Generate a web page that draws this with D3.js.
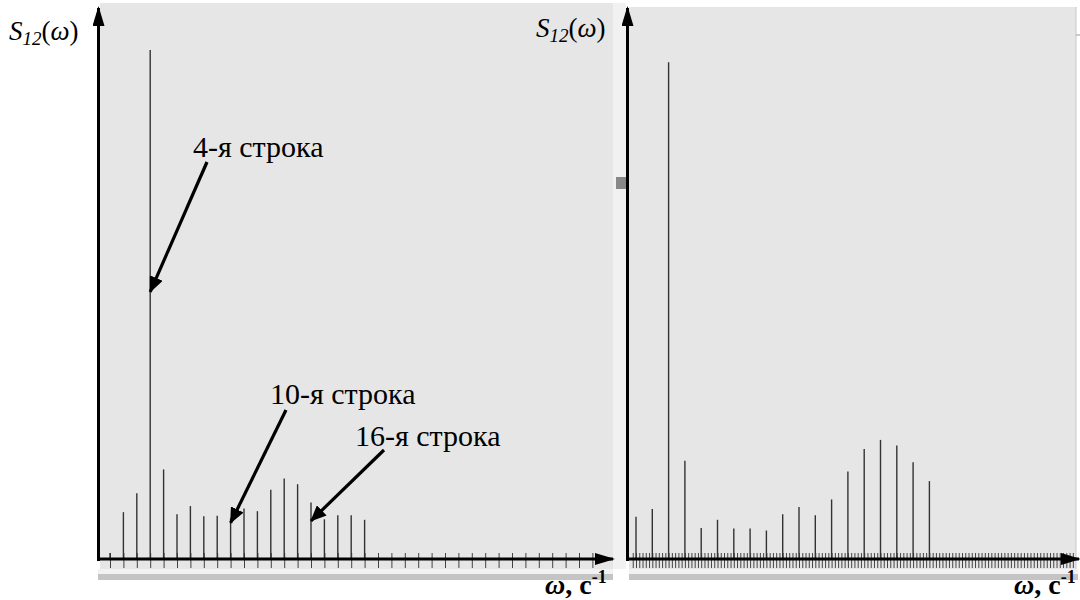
<!DOCTYPE html>
<html>
<head>
<meta charset="utf-8">
<script src="https://cdn.jsdelivr.net/npm/d3@7"></script>
<style>
  body { margin: 0; background: #fff; }
  svg { display: block; }
</style>
</head>
<body>
<svg id="chart" width="1080" height="600"></svg>
<script>
// S12(w) spectrum, relative amplitude (peak of left panel = 100)
const leftHarm = d3.range(0, 20);
const leftVals = [1.2, 9.2, 12.9, 100, 17.6, 8.8, 10.4, 8.4, 8.5, 8.0, 9.9, 9.4, 13.6, 15.8, 14.7, 11.1, 7.8, 8.6, 8.6, 7.7];
const leftTicks = d3.range(0, 37);

const rightHarm = d3.range(0, 19);
const rightVals = [8.3, 9.8, 97.6, 19.3, 6.1, 7.7, 6.0, 6.0, 5.6, 8.8, 10.2, 8.6, 11.7, 17.2, 21.6, 23.4, 22.3, 19.0, 15.3];
const rightTicks = d3.range(-1, 135).map(t => t / 5);

// annotations: label, harmonic it points at, level of arrow tip
const noteLabels = ['4-я строка', '10-я строка', '16-я строка'];
const noteHarm = [3, 9, 15];
const noteLevel = [52.5, 7.1, 7.5];

const serif = '"Liberation Serif", "Times New Roman", "DejaVu Serif", serif';

const svg = d3.select('#chart');
const y0 = 559;

const y = d3.scaleLinear().domain([0, 100]).range([y0, 50]);
const xL = d3.scaleLinear().domain([0, 36]).range([110, 592.4]);
const xR = d3.scaleLinear().domain([0, 18]).range([636, 929.4]);

const defs = svg.append('defs');
defs.append('marker')
  .attr('id', 'head')
  .attr('markerUnits', 'userSpaceOnUse')
  .attr('viewBox', '0 0 20 12')
  .attr('refX', 18).attr('refY', 6)
  .attr('markerWidth', 20).attr('markerHeight', 12)
  .attr('orient', 'auto')
  .append('path').attr('d', 'M0,0L20,6L0,12Z').attr('fill', '#000');
defs.append('marker')
  .attr('id', 'note')
  .attr('markerUnits', 'userSpaceOnUse')
  .attr('viewBox', '0 0 16 14')
  .attr('refX', 15).attr('refY', 7)
  .attr('markerWidth', 16).attr('markerHeight', 14)
  .attr('orient', 'auto')
  .append('path').attr('d', 'M0,0L16,7L0,14Z').attr('fill', '#000');

// panel backgrounds
svg.append('rect').attr('x', 100).attr('y', 3).attr('width', 513).attr('height', 566).attr('fill', '#e6e6e6');
svg.append('rect').attr('x', 613).attr('y', 3).attr('width', 13).attr('height', 566).attr('fill', '#f1f1f1');
svg.append('rect').attr('x', 616).attr('y', 177).attr('width', 10).attr('height', 12).attr('fill', '#888');
svg.append('rect').attr('x', 629).attr('y', 7).attr('width', 447).attr('height', 562).attr('fill', '#e6e6e6');
svg.append('line').attr('x1', 1076).attr('x2', 1076).attr('y1', 7).attr('y2', 569).attr('stroke', '#c8c8c8');
svg.append('line').attr('x1', 1076).attr('x2', 1080).attr('y1', 35).attr('y2', 35).attr('stroke', '#999');

// strips below the axes
[[98, 613], [629, 1078]].forEach(([a, b]) => {
  svg.append('rect').attr('x', a).attr('y', 569).attr('width', b - a).attr('height', 5).attr('fill', '#f2f2f2');
  svg.append('rect').attr('x', a).attr('y', 574).attr('width', b - a).attr('height', 6).attr('fill', '#c4c4c4');
});

function drawPanel(x, harm, vals, ticks, xStart, xEnd, yAxisX, yTop) {
  const g = svg.append('g');

  const ax = g.append('g')
    .attr('transform', `translate(0,${y0})`)
    .call(d3.axisBottom(x).tickValues(ticks).tickSize(9).tickFormat(''));
  ax.select('.domain').remove();
  ax.selectAll('.tick line').attr('y1', -6).attr('stroke', '#444').attr('stroke-width', 1);

  g.selectAll('.bar')
    .data(harm)
    .enter().append('line')
    .attr('class', 'bar')
    .attr('x1', d => x(d)).attr('x2', d => x(d))
    .attr('y1', y(0)).attr('y2', d => y(vals[d]))
    .attr('stroke', '#333').attr('stroke-width', 1.4);

  g.append('line')
    .attr('x1', xStart).attr('x2', xEnd)
    .attr('y1', y0).attr('y2', y0)
    .attr('stroke', '#000').attr('stroke-width', 3)
    .attr('marker-end', 'url(#head)');
  g.append('line')
    .attr('x1', yAxisX).attr('x2', yAxisX)
    .attr('y1', y0 + 2).attr('y2', yTop)
    .attr('stroke', '#000').attr('stroke-width', 3)
    .attr('marker-end', 'url(#head)');
}

drawPanel(xL, leftHarm, leftVals, leftTicks, 97, 613, 98.5, 8);
drawPanel(xR, rightHarm, rightVals, rightTicks, 627, 1079, 627.5, 8);

// axis titles
function sLabel(x, yb) {
  const t = svg.append('text').attr('x', x).attr('y', yb)
    .attr('font-family', serif).attr('font-size', 27);
  t.append('tspan').attr('font-style', 'italic').text('S');
  t.append('tspan').attr('font-style', 'italic').attr('font-size', 19).attr('dy', 5).text('12');
  t.append('tspan').attr('dy', -5).text('(');
  t.append('tspan').attr('font-style', 'italic').text('ω');
  t.append('tspan').text(')');
}
sLabel(9, 40);
sLabel(536, 37);

function wLabel(x) {
  const t = svg.append('text').attr('x', x).attr('y', 594)
    .attr('font-family', serif).attr('font-size', 28).attr('font-weight', 'bold');
  t.append('tspan').attr('font-style', 'italic').text('ω');
  t.append('tspan').text(', c');
  t.append('tspan').attr('font-size', 18).attr('dy', -11).text('-1');
}
wLabel(545);
wLabel(1014);

// annotations
const noteText = [[193, 157], [270, 404], [355, 446]];
const noteStart = [[207, 162], [286, 410], [384, 450]];
noteLabels.forEach((lab, i) => {
  svg.append('text')
    .attr('x', noteText[i][0]).attr('y', noteText[i][1])
    .attr('font-family', serif).attr('font-size', 30)
    .text(lab);
  svg.append('line')
    .attr('x1', noteStart[i][0]).attr('y1', noteStart[i][1])
    .attr('x2', xL(noteHarm[i])).attr('y2', y(noteLevel[i]))
    .attr('stroke', '#000').attr('stroke-width', 3.2)
    .attr('marker-end', 'url(#note)');
});
</script>
</body>
</html>
